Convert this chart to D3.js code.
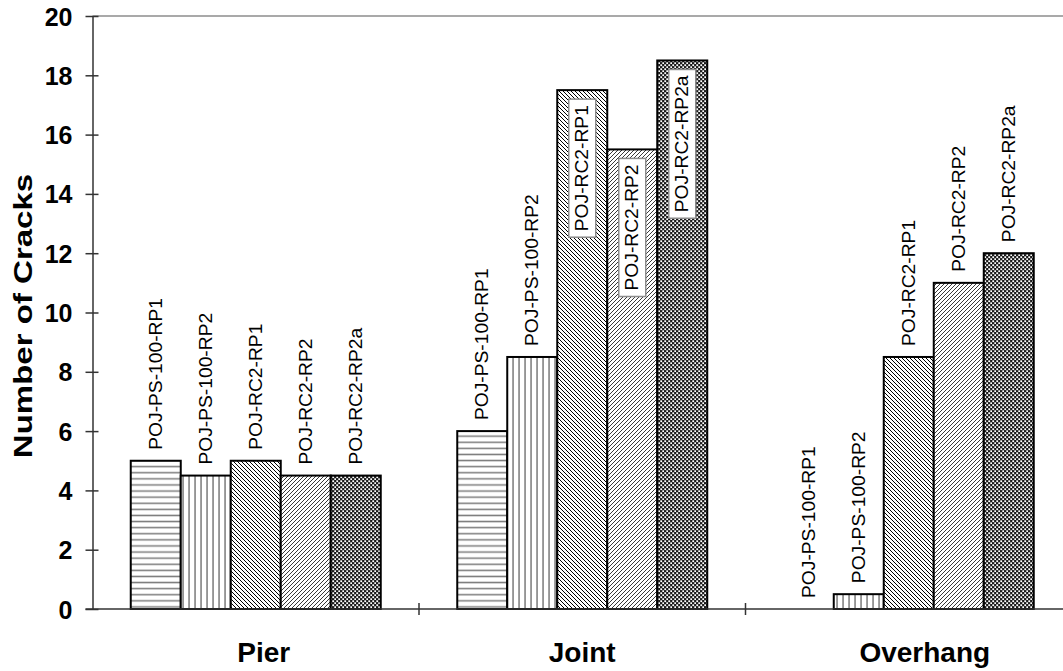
<!DOCTYPE html>
<html>
<head>
<meta charset="utf-8">
<script src="https://cdn.jsdelivr.net/npm/d3@7/dist/d3.min.js"></script>
<style>
  html, body { margin: 0; padding: 0; background: #fff; }
  svg { display: block; font-family: "Liberation Sans", Arial, sans-serif; }
</style>
</head>
<body>
<svg id="chart" width="1063" height="671"></svg>
<script>
// Crack counts per location and specimen
const categories = ["Pier", "Joint", "Overhang"];
const specimens = ["POJ-PS-100-RP1", "POJ-PS-100-RP2", "POJ-RC2-RP1", "POJ-RC2-RP2", "POJ-RC2-RP2a"];
const pierCracks = [5, 4.5, 5, 4.5, 4.5];
const jointCracks = [6, 8.5, 17.5, 15.5, 18.5];
const overhangCracks = [0, 0.5, 8.5, 11, 12];
const yTicks = [0, 2, 4, 6, 8, 10, 12, 14, 16, 18, 20];
// bars whose label sits inside the bar in a framed box
const boxedLabels = [["Joint", "POJ-RC2-RP1"], ["Joint", "POJ-RC2-RP2"], ["Joint", "POJ-RC2-RP2a"]];

const seriesByCategory = { Pier: pierCracks, Joint: jointCracks, Overhang: overhangCracks };
const rows = [];
categories.forEach(c => specimens.forEach((s, i) => rows.push({ category: c, specimen: s, value: seriesByCategory[c][i] })));
const isBoxed = d => boxedLabels.some(([c, s]) => c === d.category && s === d.specimen);

const svg = d3.select("#chart");
const font = '"Liberation Sans", Arial, sans-serif';
const margin = { left: 92.5, top: 16, bottom: 609 };
const plotRight = 1072;

const x0 = d3.scaleBand().domain(categories).range([margin.left, plotRight]).paddingInner(0).paddingOuter(0);
const x1 = d3.scaleBand().domain(specimens).range([0, x0.bandwidth()]).paddingInner(0).paddingOuter(0.765);
const y = d3.scaleLinear().domain([0, 20]).range([margin.bottom, margin.top]);

// fill patterns, one per specimen
const defs = svg.append("defs");
function pattern(id, w, h) {
  return defs.append("pattern").attr("id", id).attr("patternUnits", "userSpaceOnUse")
    .attr("width", w).attr("height", h);
}
let p = pattern("pHoriz", 6, 6.1);
p.append("rect").attr("width", 6).attr("height", 6.1).attr("fill", "#fff");
p.append("rect").attr("y", 2.3).attr("width", 6).attr("height", 1.5).attr("fill", "#7a7a7a");
p = pattern("pVert", 6, 6);
p.append("rect").attr("width", 6).attr("height", 6).attr("fill", "#fff");
p.append("rect").attr("x", 2.3).attr("width", 1.5).attr("height", 6).attr("fill", "#7a7a7a");
p = pattern("pDown", 4, 4);
p.append("rect").attr("width", 4).attr("height", 4).attr("fill", "#fff");
p.append("path").attr("d", "M-1,-1L5,5M-1,3L1,5M3,-1L5,1").attr("stroke", "#000").attr("stroke-width", 1);
p = pattern("pUp", 4, 4);
p.append("rect").attr("width", 4).attr("height", 4).attr("fill", "#fff");
p.append("path").attr("d", "M-1,5L5,-1M-1,1L1,-1M3,5L5,3").attr("stroke", "#222").attr("stroke-width", 0.9);
p = pattern("pCheck", 4, 4);
p.append("rect").attr("width", 4).attr("height", 4).attr("fill", "#1a1a1a");
p.append("rect").attr("x", 0.3).attr("y", 0.3).attr("width", 1.8).attr("height", 1.8).attr("fill", "#fff");
p.append("rect").attr("x", 2.3).attr("y", 2.3).attr("width", 1.8).attr("height", 1.8).attr("fill", "#fff");
const fills = d3.scaleOrdinal().domain(specimens).range(["url(#pHoriz)", "url(#pVert)", "url(#pDown)", "url(#pUp)", "url(#pCheck)"]);

// top frame line
svg.append("line").attr("x1", margin.left).attr("x2", 1063).attr("y1", margin.top).attr("y2", margin.top)
  .attr("stroke", "#8c8c8c").attr("stroke-width", 1.5);

// bars
svg.append("g").selectAll("rect").data(rows.filter(d => d.value > 0)).join("rect")
  .attr("x", d => x0(d.category) + x1(d.specimen))
  .attr("y", d => y(d.value))
  .attr("width", x1.bandwidth())
  .attr("height", d => y(0) - y(d.value))
  .attr("fill", d => fills(d.specimen))
  .attr("stroke", "#000").attr("stroke-width", 2);

// y axis
const yAxis = svg.append("g").attr("transform", `translate(${margin.left},0)`)
  .call(d3.axisLeft(y).tickValues(yTicks).tickSizeInner(7).tickSizeOuter(0).tickPadding(13));
yAxis.select(".domain").attr("stroke", "#333").attr("stroke-width", 1.5);
yAxis.selectAll(".tick line").attr("stroke", "#333").attr("stroke-width", 1.5).attr("x2", 6).attr("x1", -7);
yAxis.selectAll(".tick text").attr("font-family", font).attr("font-size", 25).attr("font-weight", "bold")
  .attr("fill", "#000").attr("dy", "0.36em");

// x axis
const xAxis = svg.append("g").attr("transform", `translate(0,${margin.bottom})`)
  .call(d3.axisBottom(x0).tickSize(0).tickFormat(""));
xAxis.select(".domain").attr("stroke", "#333").attr("stroke-width", 1.5).attr("d", `M${margin.left - 7},0H${plotRight}`);
xAxis.selectAll(".tick").remove();
const boundaries = categories.slice(1).map(c => x0(c));
xAxis.selectAll("line.sep").data(boundaries).join("line").attr("class", "sep")
  .attr("x1", d => d).attr("x2", d => d).attr("y1", -6).attr("y2", 6)
  .attr("stroke", "#333").attr("stroke-width", 1.5);

// category labels
const labelShift = { Pier: 8, Joint: 0, Overhang: 16 };
svg.append("g").selectAll("text").data(categories).join("text")
  .attr("x", d => x0(d) + x0.bandwidth() / 2 + labelShift[d])
  .attr("y", 661.5)
  .attr("text-anchor", "middle")
  .attr("font-family", font).attr("font-size", 28).attr("font-weight", "bold")
  .text(d => d);

// y title
svg.append("text")
  .attr("transform", "translate(32,316) scale(1,1.27) rotate(-90)")
  .attr("text-anchor", "middle")
  .attr("font-family", font).attr("font-size", 26).attr("font-weight", "bold")
  .text("Number of Cracks");

// bar labels
const stretch = 1.1;
const labelSize = 17.5;
const cx = d => x0(d.category) + x1(d.specimen) + x1.bandwidth() / 2;
const outside = rows.filter(d => !isBoxed(d));
svg.append("g").selectAll("text").data(outside).join("text")
  .attr("transform", d => `translate(${cx(d)},${y(d.value) - 11}) scale(1,${stretch}) rotate(-90)`)
  .attr("dy", "0.35em")
  .attr("font-family", font).attr("font-size", labelSize)
  .text(d => d.specimen);

const inside = rows.filter(isBoxed);
const gIn = svg.append("g").selectAll("g").data(inside).join("g")
  .attr("transform", d => `translate(${cx(d)},${y(d.value) + 9})`);
gIn.append("text")
  .attr("transform", `translate(0,6) scale(1,${stretch}) rotate(-90)`)
  .attr("text-anchor", "end")
  .attr("dy", "0.35em")
  .attr("font-family", font).attr("font-size", labelSize)
  .text(d => d.specimen);
gIn.insert("rect", "text")
  .attr("x", -13.5).attr("y", 0).attr("width", 27)
  .attr("height", function () {
    const t = d3.select(this.parentNode).select("text").node();
    return t.getComputedTextLength() * stretch + 12;
  })
  .attr("fill", "#fff").attr("stroke", "#8c8c8c").attr("stroke-width", 1.5);
</script>
</body>
</html>
